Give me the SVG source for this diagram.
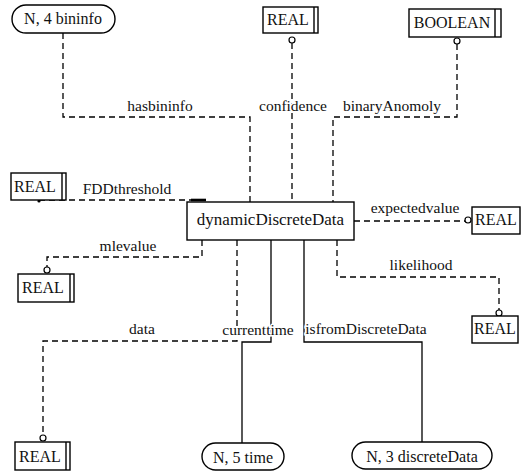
<svg xmlns="http://www.w3.org/2000/svg" width="521" height="471" viewBox="0 0 521 471">
<style>
.node rect{fill:#fff;stroke:#000;stroke-width:1.4}
.node line{stroke:#000;stroke-width:1.4}
text{font-family:'Liberation Serif','DejaVu Serif',serif}
.t{font-size:16px;fill:#111;text-anchor:middle}
.main{font-size:17px}
.lbl{font-size:15.5px;fill:#111;text-anchor:middle;stroke:#fff;stroke-width:3;paint-order:stroke}
.d{fill:none;stroke:#000;stroke-width:1.3;stroke-dasharray:6,4}
.s{fill:none;stroke:#000;stroke-width:1.3}
.c{fill:#fff;stroke:#000;stroke-width:1.2}
</style>
<rect width="521" height="471" fill="#fff"/>
<g id="connectors">
<polyline class="d" points="63,33 63,117 250,117 250,202"/>
<polyline class="d" points="292,43 292,202"/>
<polyline class="d" points="457,44 457,117 333,117 333,202"/>
<polyline class="d" points="39,200 207,200"/>
<line x1="191" y1="200" x2="206" y2="200" stroke="#000" stroke-width="2.6"/>
<circle cx="39" cy="201" r="1.6" fill="#000"/>
<polyline class="d" points="354,221 465,221"/>
<polyline class="d" points="202,240 202,257 47,257 47,267"/>
<polyline class="d" points="337,240 337,277 499,277 499,310"/>
<polyline class="d" points="237,240 237,341 43,341 43,435"/>
<polyline class="s" points="271,240 271,342 242,342 242,443"/>
<polyline class="s" points="304,240 304,342 422,342 422,442"/>
<circle class="c" cx="292" cy="40" r="3"/>
<circle class="c" cx="457" cy="41" r="3"/>
<circle class="c" cx="468" cy="220" r="3"/>
<circle class="c" cx="47" cy="270" r="3"/>
<circle class="c" cx="499" cy="313" r="3"/>
<circle class="c" cx="43" cy="438" r="3"/>
<text class="lbl" x="160" y="111">hasbininfo</text>
<text class="lbl" x="293" y="111">confidence</text>
<text class="lbl" x="392" y="111">binaryAnomoly</text>
<text class="lbl" x="127" y="194">FDDthreshold</text>
<text class="lbl" x="415" y="213">expectedvalue</text>
<text class="lbl" x="128" y="251">mlevalue</text>
<text class="lbl" x="421" y="270">likelihood</text>
<text class="lbl" x="142" y="334">data</text>
<text class="lbl" x="258" y="335">currenttime</text>
<text class="lbl" x="366" y="334">isfromDiscreteData</text>
</g>
<g id="main" class="node">
<rect x="187" y="202" width="167" height="38"/>
<text class="t main" x="270.5" y="225">dynamicDiscreteData</text>
</g>
<g id="bininfo" class="node">
<rect x="12" y="5" width="103" height="28" rx="14"/>
<text class="t" x="63" y="24">N, 4 bininfo</text>
</g>
<g id="real_confidence" class="node">
<rect x="263" y="7" width="55" height="26"/>
<line x1="314" y1="7" x2="314" y2="33"/>
<text class="t" x="288" y="25">REAL</text>
</g>
<g id="boolean_anomaly" class="node">
<rect x="409" y="9" width="92" height="28"/>
<line x1="495" y1="9" x2="495" y2="37"/>
<text class="t" x="452" y="28">BOOLEAN</text>
</g>
<g id="real_fdd" class="node">
<rect x="11" y="173" width="55" height="27"/>
<line x1="62" y1="173" x2="62" y2="200"/>
<text class="t" x="35" y="192">REAL</text>
</g>
<g id="real_expected" class="node">
<rect x="472" y="207" width="48" height="27"/>
<text class="t" x="496" y="225">REAL</text>
</g>
<g id="real_mle" class="node">
<rect x="18" y="274" width="56" height="28"/>
<line x1="70" y1="274" x2="70" y2="302"/>
<text class="t" x="43" y="293">REAL</text>
</g>
<g id="real_likelihood" class="node">
<rect x="472" y="316" width="46" height="27"/>
<text class="t" x="495" y="334">REAL</text>
</g>
<g id="real_data" class="node">
<rect x="15" y="442" width="55" height="28"/>
<line x1="66" y1="442" x2="66" y2="470"/>
<text class="t" x="40" y="462">REAL</text>
</g>
<g id="time" class="node">
<rect x="202" y="443" width="82" height="27" rx="13.5"/>
<text class="t" x="243" y="463">N, 5 time</text>
</g>
<g id="discreteData" class="node">
<rect x="352" y="442" width="140" height="27" rx="13.5"/>
<text class="t" x="422" y="462">N, 3 discreteData</text>
</g>
</svg>
